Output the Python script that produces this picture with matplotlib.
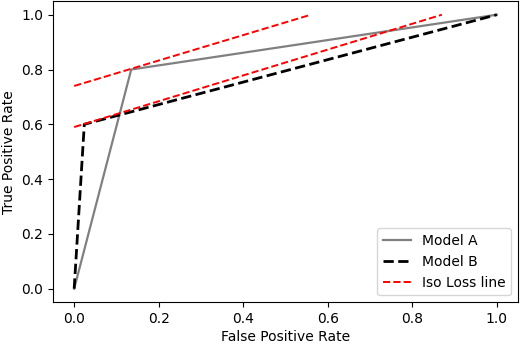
import matplotlib
matplotlib.use("Agg")
import matplotlib.pyplot as plt

# ROC points
fpr_a = [0.0, 0.135, 1.0]
tpr_a = [0.0, 0.80, 1.0]
fpr_b = [0.0, 0.024, 1.0]
tpr_b = [0.0, 0.60, 1.0]

# iso loss lines (start / end points)
iso_hi_x = [0.0, 0.56]
iso_hi_y = [0.74, 1.0]
iso_lo_x = [0.0, 0.87]
iso_lo_y = [0.59, 1.0]

plt.rcParams["font.size"] = 10

fig = plt.figure(figsize=(5.2, 3.44), dpi=100)
ax = fig.add_axes([0.102, 0.121, 0.894, 0.876])

ax.plot(fpr_a, tpr_a, color="grey", lw=1.6, label="Model A")
ax.plot(fpr_b, tpr_b, color="black", ls="--", lw=2, label="Model B")
ax.plot(iso_hi_x, iso_hi_y, color="red", ls="--", lw=1.4, label="Iso Loss line")
ax.plot(iso_lo_x, iso_lo_y, color="red", ls="--", lw=1.4)

ax.set_xlabel("False Positive Rate", labelpad=2.5)
ax.set_ylabel("True Positive Rate")
ax.legend(loc="lower right")

fig.savefig("out.png", dpi=100)
